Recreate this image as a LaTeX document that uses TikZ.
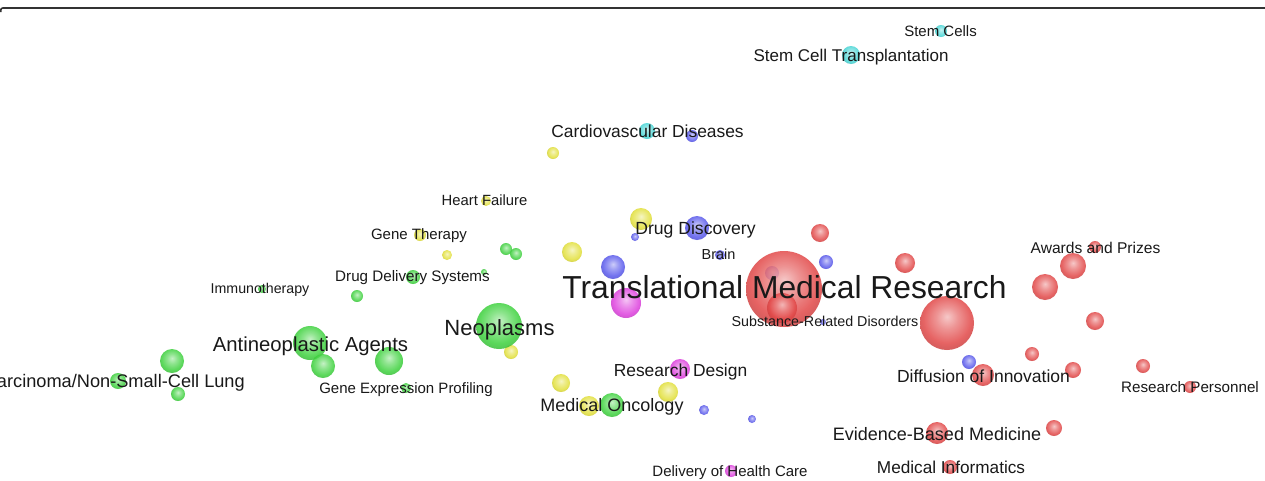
\documentclass[tikz,border=0pt]{standalone}
\usepackage{fontspec}
\setmainfont{Liberation Sans}
\definecolor{cRed}{RGB}{226,72,72}
\definecolor{cGreen}{RGB}{62,210,62}
\definecolor{cBlue}{RGB}{88,88,236}
\definecolor{cYellow}{RGB}{226,224,58}
\definecolor{cCyan}{RGB}{72,214,214}
\definecolor{cMag}{RGB}{222,64,222}
\definecolor{txt}{RGB}{25,25,25}
\colorlet{bubblecol}{red}
\pgfdeclareradialshading[bubblecol]{bubble}{\pgfqpoint{0bp}{6bp}}{%
 color(0bp)=(bubblecol!35!white);
 color(10bp)=(bubblecol!68!white);
 color(22bp)=(bubblecol);
 color(31bp)=(bubblecol!85!black);
 color(50bp)=(bubblecol!85!black)}
\tikzset{
  ball/.style={circle, inner sep=0pt, shading=bubble, fill opacity=0.85,
    /utils/exec={\colorlet{bubblecol}{#1}}},
  lab/.style={inner sep=0pt, text=txt, anchor=base, font=\fontsize{#1}{#1}\selectfont}
}
\begin{document}
\begin{tikzpicture}[x=1pt,y=-1pt]
\clip (0,0) rectangle (1265,480);
\fill[white] (0,0) rectangle (1265,480);
\draw[line width=1.6pt, black!80, rounded corners=2pt] (0.8,12) -- (0.8,8) -- (1265,8);
% yellow
\foreach \n/\x/\y/\r in {y1/553/153/6, y2/486/201/5, y3/420/235/6, y4/447/255/5, y5/641/219/11,
  y6/572/252/10, y7/511/352/7, y8/561/383/9, y9/668/392/10, y10/589/406/10}
  \node[ball=cYellow, minimum size=2*\r*1pt] (\n) at (\x,\y) {};
% green
\foreach \n/\x/\y/\r in {g1/506/249/6, g2/516/254/6, g3/484/272/3, g4/413/277/7, g5/357/296/6,
  g6/262/289/4, g7/499/326/23, g8/310/343/17, g9/323/366/12, g10/389/361/14, g11/172/361/12,
  g12/118/381/8, g13/178/394/7, g14/406/388/5, g15/612/405/12}
  \node[ball=cGreen, minimum size=2*\r*1pt] (\n) at (\x,\y) {};
% blue
\foreach \n/\x/\y/\r in {u1/692/136/6, u2/697/228/12, u3/635/237/4, u4/613/267/12, u5/720/255/5,
  u6/826/262/7, u7/772/273/7, u8/704/410/5, u9/752/419/4, u10/969/362/7}
  \node[ball=cBlue, minimum size=2*\r*1pt] (\n) at (\x,\y) {};
% magenta
\foreach \n/\x/\y/\r in {m1/626/303/15, m2/680/369/10, m3/731/471/6}
  \node[ball=cMag, minimum size=2*\r*1pt] (\n) at (\x,\y) {};
% cyan
\foreach \n/\x/\y/\r in {c1/941/31/6, c2/851/55/9, c3/647/131/8}
  \node[ball=cCyan, minimum size=2*\r*1pt] (\n) at (\x,\y) {};
% red
\foreach \n/\x/\y/\r in {r1/784/289/38, r2/782/308/15, r3/820/233/9, r4/905/263/10, r5/947/323/27,
  r6/1073/266/13, r7/1045/287/13, r8/1095/247/6, r9/1095/321/9, r10/1032/354/7, r11/983/375/11,
  r12/1073/370/8, r13/1143/366/7, r14/1190/387/6, r15/1054/428/8, r16/937/433/11, r17/950/467/7}
  \node[ball=cRed, minimum size=2*\r*1pt] (\n) at (\x,\y) {};
\node[ball=cBlue, minimum size=6pt] (u11) at (823,322) {};
% labels
\node[lab=15] (lStem) at (940.5,36) {Stem Cells};
\node[lab=17] (lSCT) at (851,61.5) {Stem Cell Transplantation};
\node[lab=17.4] (lCard) at (647.5,137.5) {Cardiovascular Diseases};
\node[lab=14.8] (lHeart) at (484.5,205) {Heart Failure};
\node[lab=15] (lGene) at (419,239) {Gene Therapy};
\node[lab=17.6] (lDrug) at (695.5,234) {Drug Discovery};
\node[lab=14.5] (lBrain) at (718.5,259) {Brain};
\node[lab=14.2] (lImmu) at (260,293) {Immunotherapy};
\node[lab=15.2] (lDDS) at (412.5,281) {Drug Delivery Systems};
\node[lab=31.8] (lTMR) at (784.5,298.5) {Translational Medical Research};
\node[lab=14.3] (lSub) at (825,326) {Substance-Related Disorders};
\node[lab=22] (lNeo) at (499.5,335) {Neoplasms};
\node[lab=20.3] (lAnti) at (310.5,351) {Antineoplastic Agents};
\node[lab=18.2, anchor=base east] (lCarc) at (245,387) {Carcinoma/Non-Small-Cell Lung};
\node[lab=15] (lGEP) at (406,393) {Gene Expression Profiling};
\node[lab=17.4] (lRD) at (680.5,376) {Research Design};
\node[lab=18] (lMO) at (612,411) {Medical Oncology};
\node[lab=15] (lDHC) at (730,476) {Delivery of Health Care};
\node[lab=15.6] (lAward) at (1095.5,253) {Awards and Prizes};
\node[lab=17.5] (lDiff) at (983.5,382) {Diffusion of Innovation};
\node[lab=15.2] (lRP) at (1190,392) {Research Personnel};
\node[lab=18] (lEBM) at (937,440) {Evidence-Based Medicine};
\node[lab=17.2] (lMI) at (951,473) {Medical Informatics};
\end{tikzpicture}
\end{document}
